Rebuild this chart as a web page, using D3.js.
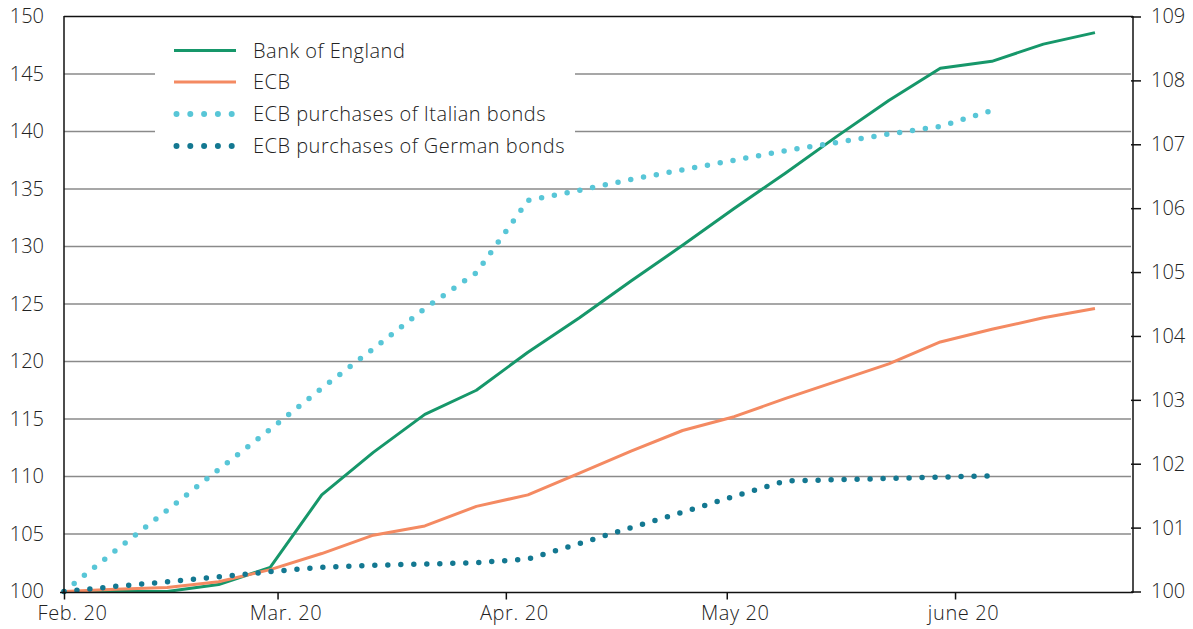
<!DOCTYPE html>
<html>
<head>
<meta charset="utf-8">
<script src="https://cdn.jsdelivr.net/npm/d3@7"></script>
<style>
  html, body { margin: 0; padding: 0; background: #fff; }
  svg { display: block; }
  text { font-family: "Open Sans", "Noto Sans", sans-serif; font-weight: 300; fill: #222; }
</style>
</head>
<body>
<svg id="chart" width="1193" height="629"></svg>
<script>
// ---- data ----
const dates = ["2020-02-01","2020-02-08","2020-02-15","2020-02-22","2020-02-29","2020-03-07","2020-03-14",
  "2020-03-21","2020-03-28","2020-04-04","2020-04-11","2020-04-18","2020-04-25","2020-05-02","2020-05-09",
  "2020-05-16","2020-05-23","2020-05-30","2020-06-06","2020-06-13","2020-06-20"];
// left axis
const bankOfEngland = [100, 100, 100, 100.6, 102.1, 108.4, 112.1, 115.4, 117.5, 120.8, 123.8, 127.0, 130.1, 133.3, 136.4, 139.6, 142.7, 145.5, 146.1, 147.6, 148.6];
const ecb = [100, 100.2, 100.35, 100.85, 101.9, 103.3, 104.9, 105.7, 107.4, 108.4, 110.3, 112.2, 114.0, 115.2, 116.8, 118.3, 119.8, 121.7, 122.8, 123.8, 124.6];
// right axis
const italianBonds = [100, 100.64, 101.27, 101.91, 102.54, 103.18, 103.80, 104.43, 104.99, 106.12, 106.28, 106.45, 106.60, 106.75, 106.90, 107.03, 107.16, 107.28, 107.53];
const germanBonds = [100, 100.08, 100.15, 100.23, 100.31, 100.38, 100.41, 100.43, 100.45, 100.51, 100.75, 101.00, 101.24, 101.49, 101.73, 101.75, 101.77, 101.79, 101.81];

const seriesNames = ["Bank of England", "ECB", "ECB purchases of Italian bonds", "ECB purchases of German bonds"];
const monthTicks = ["2020-02-01","2020-03-01","2020-04-01","2020-05-01","2020-06-01"];
const monthLabels = ["Feb. 20", "Mar. 20", "Apr. 20", "May 20", "june 20"];
const leftTicks = [100,105,110,115,120,125,130,135,140,145,150];
const rightTicks = [100,101,102,103,104,105,106,107,108,109];

// ---- layout ----
const svg = d3.select("#chart");
const x0 = 64, x1 = 1133, yTop = 16.5, yBot = 591.5;
const parse = d3.utcParse("%Y-%m-%d");
const x = d3.scaleUtc()
  .domain([parse("2020-02-01"), new Date(Date.UTC(2020, 5, 25, 4))])
  .range([x0, x1]);
const yL = d3.scaleLinear().domain([100, 150]).range([yBot, yTop]);
const yR = d3.scaleLinear().domain([100, 109]).range([yBot, yTop]);

// gridlines
svg.append("g").selectAll("line")
  .data(leftTicks.filter(d => d > 100 && d < 150))
  .join("line")
  .attr("x1", x0).attr("x2", x1 - 2)
  .attr("y1", d => yL(d)).attr("y2", d => yL(d))
  .attr("stroke", "#8a8a8a").attr("stroke-width", 1.5);

// top line
svg.append("line").attr("x1", x0).attr("x2", x1).attr("y1", yL(150)).attr("y2", yL(150))
  .attr("stroke", "#111").attr("stroke-width", 1.5);

// legend background
const lg = svg.append("g");
lg.append("rect").attr("x", 155).attr("y", 30).attr("width", 420).attr("height", 132).attr("fill", "#fff");

// series
const colors = ["#16976a", "#f48a62", "#58c6d7", "#137891"];
const seriesData = [
  {vals: bankOfEngland, scale: yL, dotted: false},
  {vals: ecb, scale: yL, dotted: false},
  {vals: italianBonds, scale: yR, dotted: true},
  {vals: germanBonds, scale: yR, dotted: true}
];
seriesData.forEach((s, i) => {
  const pts = s.vals.map((v, j) => [parse(dates[j]), v]);
  const line = d3.line().x(d => x(d[0])).y(d => s.scale(d[1]));
  const p = svg.append("path").datum(pts).attr("d", line)
    .attr("fill", "none").attr("stroke", colors[i]);
  if (s.dotted) {
    p.attr("stroke-width", 5.5).attr("stroke-linecap", "round").attr("stroke-dasharray", "0 13");
  } else {
    p.attr("stroke-width", 3).attr("stroke-linejoin", "round");
  }
});

// axes
const fs = "20px";
const ax = svg.append("g").attr("transform", `translate(0,${yBot + 1})`)
  .call(d3.axisBottom(x).tickValues(monthTicks.map(parse)).tickSize(7)
    .tickFormat((d, i) => monthLabels[i]));
ax.select(".domain").remove();
ax.selectAll(".tick line").attr("stroke", "#111").attr("stroke-width", 1.5);
ax.selectAll(".tick text").attr("font-size", fs).attr("dx", 8).attr("y", 13)
  .attr("letter-spacing", "0.6px");
svg.append("line").attr("x1", x0 - 4).attr("x2", x1).attr("y1", yBot + 1).attr("y2", yBot + 1)
  .attr("stroke", "#111").attr("stroke-width", 1.5);

const al = svg.append("g").attr("transform", `translate(${x0},0)`)
  .call(d3.axisLeft(yL).tickValues(leftTicks).tickSize(0).tickPadding(20));
al.select(".domain").remove();
al.selectAll(".tick text").attr("font-size", fs);
svg.append("line").attr("x1", x0).attr("x2", x0).attr("y1", yTop - 0.5).attr("y2", yBot + 1.5)
  .attr("stroke", "#111").attr("stroke-width", 1.5);

const ar = svg.append("g").attr("transform", `translate(${x1},0)`)
  .call(d3.axisRight(yR).tickValues(rightTicks).tickSize(8).tickPadding(10));
ar.select(".domain").remove();
ar.selectAll(".tick line").attr("x1", -2).attr("stroke", "#111").attr("stroke-width", 1.5);
ar.selectAll(".tick text").attr("font-size", fs);
svg.append("line").attr("x1", x1).attr("x2", x1).attr("y1", yTop - 0.5).attr("y2", yBot + 1.5)
  .attr("stroke", "#111").attr("stroke-width", 1.5);
svg.selectAll(".tick text").style("font-family", null);

// legend
const rowY = [50.5, 82, 114, 146];
seriesNames.forEach((name, i) => {
  const g = lg.append("g");
  const l = g.append("line").attr("x1", 174).attr("x2", 236).attr("y1", rowY[i]).attr("y2", rowY[i])
    .attr("stroke", colors[i]);
  if (seriesData[i].dotted) {
    l.attr("x1", 176.5).attr("x2", 232).attr("stroke-width", 6).attr("stroke-linecap", "round")
      .attr("stroke-dasharray", "0 13.8");
  } else {
    l.attr("stroke-width", 3);
  }
  g.append("text").attr("x", 253).attr("y", rowY[i]).attr("dy", "0.35em")
    .attr("font-size", fs).attr("letter-spacing", "0.5px").text(name);
});
</script>
</body>
</html>
